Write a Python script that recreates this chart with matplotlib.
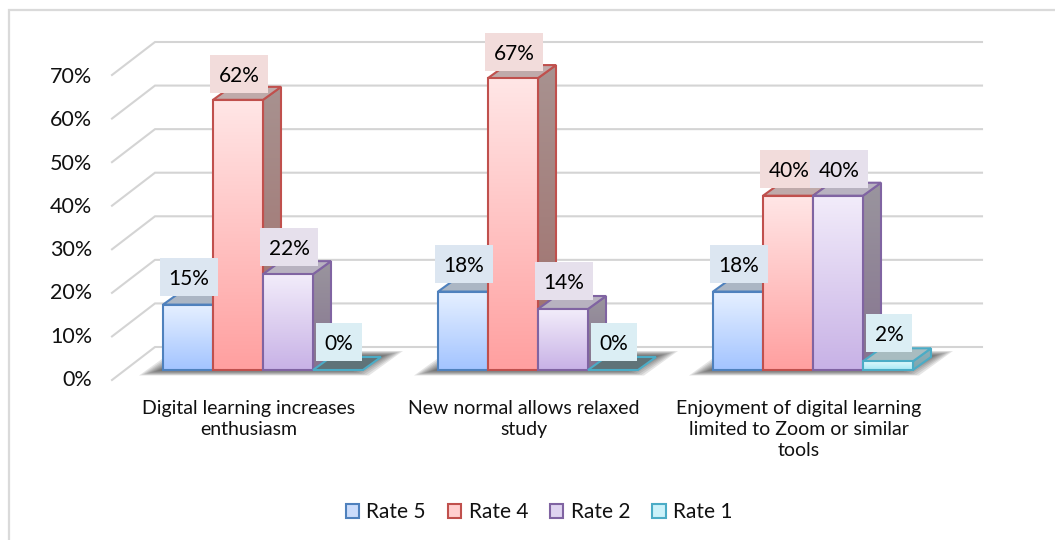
import numpy as np
import matplotlib
matplotlib.use("Agg")
import matplotlib.pyplot as plt
from matplotlib.lines import Line2D
from matplotlib.patches import Polygon, Patch, Rectangle
from matplotlib.transforms import ScaledTranslation

plt.rcParams['font.family'] = ['Lato', 'DejaVu Sans']

# Survey data
categories = ["Digital learning increases\nenthusiasm",
              "New normal allows relaxed\nstudy",
              "Enjoyment of digital learning\nlimited to Zoom or similar\ntools"]
series_names = ["Rate 5", "Rate 4", "Rate 2", "Rate 1"]
rate5 = [15, 18, 18]
rate4 = [62, 67, 40]
rate2 = [22, 14, 40]
rate1 = [0, 0, 2]
y_ticks = [0, 10, 20, 30, 40, 50, 60, 70]

# Colour sets per series: edge, front top, front bottom, side top, side bottom, roof, label box, swatch
palette = [
    ("#4F81BD", "#E6F0FF", "#A3C4FF", "#A8B2C2", "#8C9BB5", "#ABB6C4", "#DCE6F1", "#CBDCFB"),
    ("#C0504D", "#FFE6E6", "#FFA0A0", "#A89290", "#A06E6A", "#BFAAAA", "#F2DCDB", "#FFCFCF"),
    ("#8064A2", "#F2ECFA", "#C8B2E6", "#9A959E", "#85738F", "#B8B2C0", "#E6E0EC", "#DFD4F0"),
    ("#4BACC6", "#DFF9FD", "#A6E8F5", "#8FB0B8", "#7FA5AE", "#A8BCC0", "#DBEEF4", "#CBF2FA"),
]

W, H = 1055, 540
fig = plt.figure(figsize=(W / 100, H / 100), dpi=100, facecolor="white")

# Pixel geometry of the plot
PX_LEFT, PX_RIGHT = 112, 982
PX_BASE, PX_TOP = 370, 65
PX_PER_CAT = 275.0
PX_CENTER0 = 263.0
ax = fig.add_axes([PX_LEFT / W, 1 - PX_BASE / H, (PX_RIGHT - PX_LEFT) / W, (PX_BASE - PX_TOP) / H])
x_min = (PX_LEFT - PX_CENTER0) / PX_PER_CAT
x_max = (PX_RIGHT - PX_CENTER0) / PX_PER_CAT
PX_PER_PCT = (PX_BASE - PX_TOP) / 70.0


def dx(p):
    return p / PX_PER_CAT


def dy(p):
    return p / PX_PER_PCT


def gradient_poly(pts, c_top, c_bot, zorder):
    """Fill a polygon with a vertical colour gradient."""
    pts = np.asarray(pts, float)
    top, bot = matplotlib.colors.to_rgb(c_top), matplotlib.colors.to_rgb(c_bot)
    t = np.linspace(0, 1, 64)[:, None]
    img = (1 - t) * np.array(top) + t * np.array(bot)
    im = ax.imshow(img[:, None, :], extent=(pts[:, 0].min(), pts[:, 0].max(), pts[:, 1].min(), pts[:, 1].max()),
                   aspect="auto", origin="upper", zorder=zorder, interpolation="bilinear", clip_on=True)
    clip = Polygon(pts, closed=True, transform=ax.transData, fc="none", ec="none")
    ax.add_patch(clip)
    im.set_clip_path(clip)


# Chart frame: only the top and left edges fall inside the canvas
fig.add_artist(Line2D([9 / W, 9 / W, 1.0], [0.0, 1 - 10 / H, 1 - 10 / H], transform=fig.transFigure,
                      color="#DADADA", lw=1.6, solid_joinstyle="miter"))

# Back wall gridlines and their slanted side-wall continuation
GRID = "#D4D4D4"
for v in y_ticks:
    yb = v + dy(23)
    yf = v - dy(10)
    xb = x_min + dx(43)
    ax.plot([x_min, xb, x_max], [yf, yb, yb], color=GRID, lw=1.5, zorder=1, clip_on=False,
            solid_joinstyle="miter")

BAR = 50 / PX_PER_CAT
DEPTH_X, DEPTH_Y = dx(18), dy(13)
values = [rate5, rate4, rate2, rate1]
group_centers = np.arange(len(categories))

# Soft floor shadow beneath each group
for c in group_centers:
    l = c - 2 * BAR
    r = c + 2 * BAR
    for i in range(9):
        ins = i * 2.6
        ax.add_patch(Polygon([(l - dx(24) + dx(ins), -dy(5.5) + dy(ins * 0.25)),
                              (r + dx(6) - dx(ins), -dy(5.5) + dy(ins * 0.25)),
                              (r + dx(40) - dx(ins), dy(19) - dy(ins * 0.25)),
                              (l + dx(10) + dx(ins), dy(19) - dy(ins * 0.25))],
                             closed=True, fc="#3A3A3A", ec="none", alpha=0.13, zorder=2, clip_on=False))

# Bars: front, side and roof faces, drawn left to right
z = 3.0
for c in group_centers:
    for s, vals in enumerate(values):
        edge, f_top, f_bot, s_top, s_bot, roof = palette[s][:6]
        v = vals[c]
        x0 = c - 2 * BAR + s * BAR
        x1 = x0 + BAR
        if v > 0:
            gradient_poly([(x1, 0), (x1 + DEPTH_X, DEPTH_Y), (x1 + DEPTH_X, v + DEPTH_Y), (x1, v)],
                          s_top, s_bot, z)
            ax.add_patch(Polygon([(x1, 0), (x1 + DEPTH_X, DEPTH_Y), (x1 + DEPTH_X, v + DEPTH_Y), (x1, v)],
                                 closed=True, fc="none", ec=edge, lw=1.5, zorder=z + 0.1, clip_on=False))
        roof_c = roof if v > 0 else "#5F7378"
        ax.add_patch(Polygon([(x0, v), (x1, v), (x1 + DEPTH_X, v + DEPTH_Y), (x0 + DEPTH_X, v + DEPTH_Y)],
                             closed=True, fc=roof_c, ec=edge, lw=1.5, zorder=z + 0.2, clip_on=False))
        if v > 0:
            gradient_poly([(x0, 0), (x1, 0), (x1, v), (x0, v)], f_top, f_bot, z + 0.3)
            ax.add_patch(Polygon([(x0, 0), (x1, 0), (x1, v), (x0, v)], closed=True, fc="none", ec=edge,
                                 lw=1.5, zorder=z + 0.4, clip_on=False))
        z += 1

# Value labels on solid tinted boxes
for c in group_centers:
    for s, vals in enumerate(values):
        v = vals[c]
        text = f"{v}%"
        xc = c - 2 * BAR + s * BAR + BAR / 2 + dx(1)
        yc = v + dy(28.3 - 0.04 * v)
        bw, bh = dx(12 * len(text) + 22), dy(38)
        ax.add_patch(Rectangle((xc - bw / 2, yc - bh / 2), bw, bh, fc=palette[s][6], ec="none", zorder=60,
                               clip_on=False))
        ax.text(xc, yc, text, ha="center", va="center_baseline", fontsize=15, color="black", zorder=61)

ax.set_xlim(x_min, x_max)
ax.set_ylim(0, 70)
ax.patch.set_visible(False)
for sp in ax.spines.values():
    sp.set_visible(False)

# Axis labels sit on the front plane of the side wall
ax.set_yticks(y_ticks)
ax.set_yticklabels([f"{v}%" for v in y_ticks], fontsize=15.5, color="#111111")
ax.tick_params(axis="y", length=0, pad=14.4)
for v, lab in zip(y_ticks, ax.get_yticklabels()):
    lab.set_transform(lab.get_transform() + ScaledTranslation(0, -(8 + 0.03 * v) / 100, fig.dpi_scale_trans))
ax.set_xticks(group_centers)
ax.set_xticklabels(categories, fontsize=14, color="#111111", linespacing=1.3, va="top")
ax.tick_params(axis="x", length=0, pad=21.5)
for lab in ax.get_xticklabels():
    lab.set_transform(lab.get_transform() + ScaledTranslation(-14 / 100, 0, fig.dpi_scale_trans))

handles = [Patch(facecolor=p[7], edgecolor=p[0], linewidth=1.5, label=n) for p, n in zip(palette, series_names)]
fig.legend(handles=handles, loc="center", bbox_to_anchor=(539 / W, 1 - 512 / H), ncol=4, frameon=False,
           fontsize=15, handlelength=0.65, handleheight=0.65, handletextpad=0.35, columnspacing=1.05,
           labelcolor="#111111")

fig.savefig("out.png", dpi=100, facecolor="white")
